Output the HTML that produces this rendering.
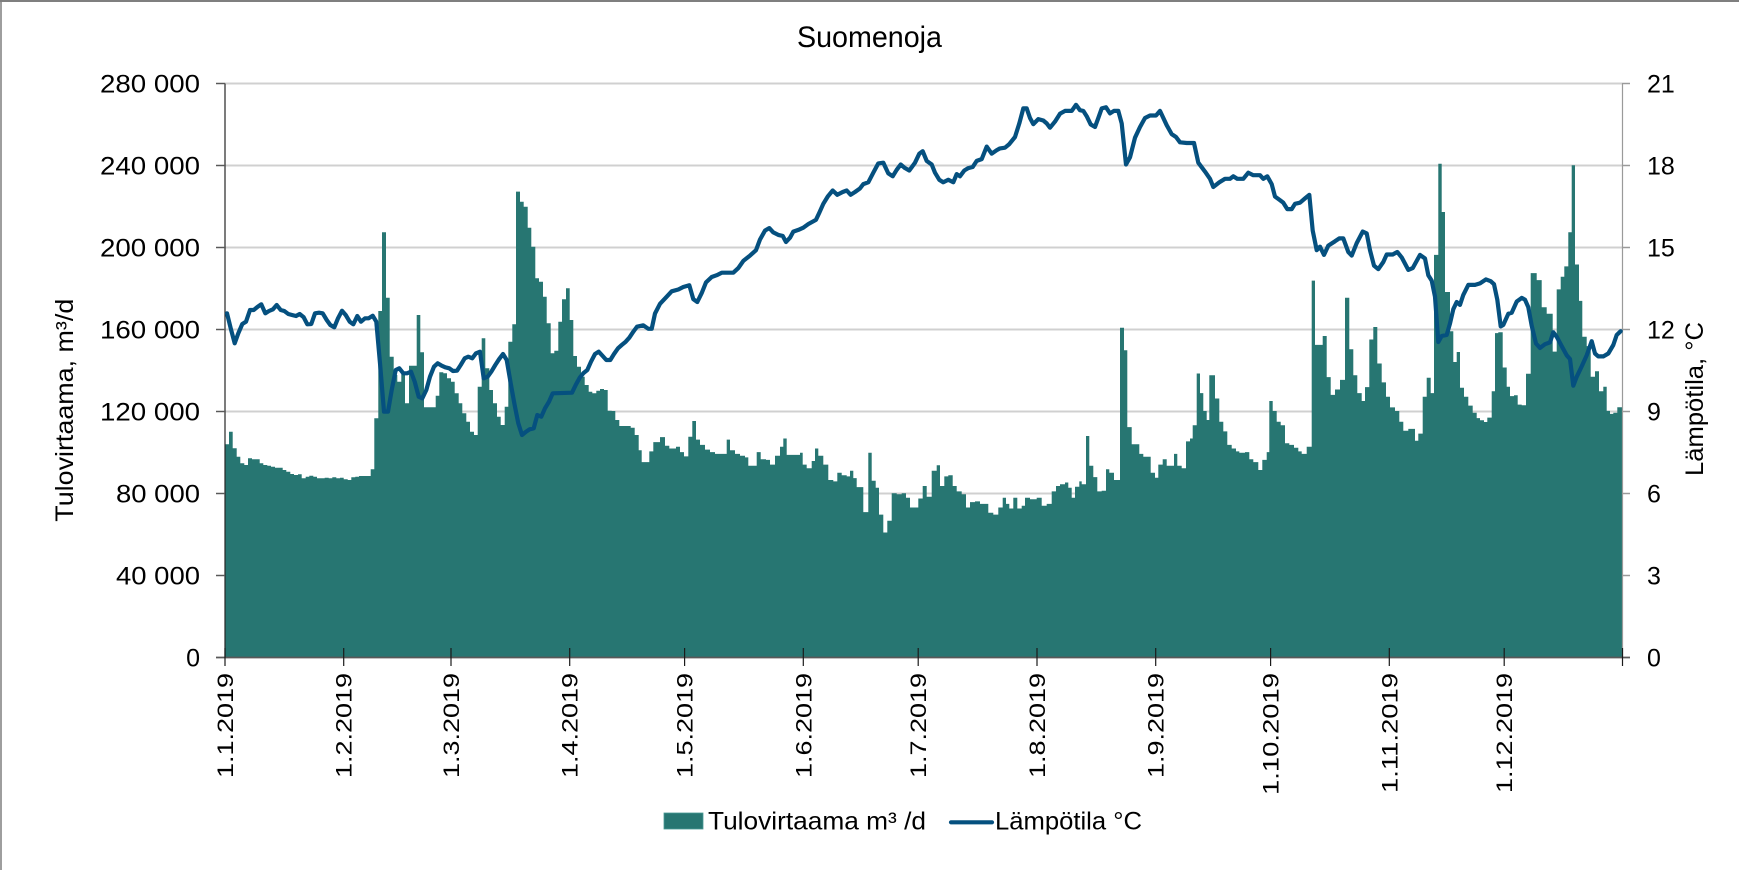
<!DOCTYPE html>
<html>
<head>
<meta charset="utf-8">
<style>
  html, body { margin: 0; padding: 0; background: #ffffff; }
  svg { display: block; }
  text { font-family: "Liberation Sans", "DejaVu Sans", sans-serif; fill: #000; }
</style>
</head>
<body>
<svg width="1739" height="870" viewBox="0 0 1739 870" xmlns="http://www.w3.org/2000/svg">
  <rect x="0" y="0" width="1739" height="870" fill="#ffffff"/>
  <!-- frame (top and left visible) -->
  <line x1="0" y1="1" x2="1739" y2="1" stroke="#7f7f7f" stroke-width="2"/>
  <line x1="1" y1="0" x2="1" y2="870" stroke="#7f7f7f" stroke-width="1.5"/>

  <!-- title -->
  <text x="797" y="47" font-size="30" textLength="145" lengthAdjust="spacingAndGlyphs">Suomenoja</text>

  <!-- gridlines -->
  <g stroke="#d0d0d0" stroke-width="2">
    <line x1="225" y1="83.5" x2="1622" y2="83.5"/>
    <line x1="225" y1="165.5" x2="1622" y2="165.5"/>
    <line x1="225" y1="247.5" x2="1622" y2="247.5"/>
    <line x1="225" y1="329.5" x2="1622" y2="329.5"/>
    <line x1="225" y1="411.5" x2="1622" y2="411.5"/>
    <line x1="225" y1="493.5" x2="1622" y2="493.5"/>
    <line x1="225" y1="575.5" x2="1622" y2="575.5"/>
  </g>

  <!-- bars (flow) -->
  <path fill="#277672" d="M225,657.5 V444.3 H229 V431.7 H232.7 V448.3 H236.7 V456.7 H240.3 V463.3 H244.3 V465 H248 V458.3 H252 V459.3 H259.7 V463.3 H263.3 V465 H267.3 V465.7 H271 V466.7 H275 V467.7 H282.7 V470 H286.3 V471.7 H290.3 V474 H294 V475 H298 V474.3 H301.7 V478.3 H305.7 V476.7 H309.3 V475.7 H313.3 V476.7 H317 V478.3 H324.7 V477.7 H328.7 V478.3 H332.3 V477.3 H336.3 V478.3 H340 V477.7 H343.7 V479.3 H347.7 V480 H351.3 V477.3 H355.3 V476.7 H359 V476 H370.7 V469.3 H374.3 V418.3 H378.3 V311 H382 V232.3 H386 V297.7 H389.7 V356.7 H393.7 V375 H397.3 V381.7 H401.3 V373.3 H405 V403.3 H409 V365.7 H416.7 V315 H420.3 V352.3 H424 V407.3 H435.7 V395.7 H439.3 V372.3 H443.3 V373.3 H447 V378.3 H451 V381.7 H454.7 V393.3 H458.7 V403.3 H462.3 V413.3 H466.3 V421.7 H470 V431.7 H474 V435 H477.7 V386.7 H481.7 V338.3 H485.3 V368.3 H489.3 V390 H493 V403.3 H497 V416.7 H500.7 V425 H504.7 V406.7 H508.3 V341.7 H512.3 V324.3 H516 V191.6 H520 V201.7 H523.7 V206.7 H527.7 V227.7 H531.3 V246.7 H535.3 V278.3 H539 V281.7 H543 V296.7 H546.7 V323.3 H550.7 V353.3 H554.3 V350.7 H558.3 V321.7 H562 V299.3 H566 V288.3 H569.7 V320 H573.3 V356 H577 V366.7 H581 V376.7 H584.7 V385 H588.7 V391.7 H592.3 V393.3 H596.3 V390.7 H600 V389 H604 V390 H607.7 V410.7 H611.7 V411 H615.3 V420 H619.3 V426 H630.7 V427.7 H634.7 V435 H638.7
  V450.3 H641.7 V462.1 H649.3 V451.4 H653.3 V442.1 H660 V437.1 H665 V445.7 H669.3 V448.5 H676 V446.7 H680 V452.1 H684 V456.4 H688.3 V436.7 H692.3 V421 H696 V439.6 H700 V444.9 H705 V449.6 H710 V452.1 H715 V453.9 H726.7 V439.6 H730 V450.3 H735 V453.9 H740 V455.7 H745 V457.4 H748.3 V465.7 H756.7 V452.1 H760.7 V459.2 H766 V459.9 H770 V464.6 H775 V455.7 H780 V446.7 H783.3 V438.5 H786.7 V454.9 H800 V452.8 H802.7 V464.6 H806.7 V468.2 H811.7 V461 H815 V448.5 H818.3 V455.7 H823.3 V464.6 H828.3 V480 H833.3 V481.4 H837.3 V472.8 H841.7 V475.3 H846.7 V476.4 H850 V470.7 H853.3 V478.1 H856.7 V487.1 H863.3 V512.1 H868.3 V452.8 H871.7 V480.7 H875.7 V487.8 H879 V514.6 H883.3 V532.5 H887.3 V520.7 H891.7 V493.2 H896.7 V494.3 H901.7 V493.2 H906 V497.8 H910 V507.5 H918.3 V498.5 H922.7 V486 H926.7 V496.8 H931.7 V470.7 H936.7 V465.3 H940 V486 H944.3 V476.4 H948.3 V475.3 H952.7 V486 H956.7 V491.4 H961.7 V494.3 H966 V507.5 H970 V502.1 H975 V501.4 H980 V503.9 H988.3 V512.8 H993.3 V514.6 H998.3 V507.5 H1002.7 V497.8 H1006 V503.9 H1009.3 V508.5 H1013.3 V497.8 H1017.3 V508.5 H1021.7 V505.7 H1025 V497.8 H1030 V499.3 H1036.7 V497.8 H1041.7 V505.7 H1046.7 V503.9 H1050
  V503.9 H1051.7 V491.4 H1056 V486 H1060 V484.3 H1065 V482.5 H1068.3 V487.8 H1071.7 V497.8 H1075 V486.7 H1079.3 V481.4 H1081.7 V484.3 H1086 V436 H1089.3 V465.7 H1093.3 V477.1 H1097.3 V491.4 H1101.7 V490.7 H1106 V469.2 H1109.3 V472.8 H1114 V480 H1120 V327.8 H1124 V350.3 H1127.3 V427.1 H1131.7 V444.2 H1139.3 V453.9 H1143.3 V456.7 H1150.7 V472.8 H1155 V477.8 H1158.3 V464.6 H1162.7 V459.2 H1166.7 V465.7 H1174 V453.9 H1177.3 V465.7 H1181.7 V468.2 H1186 V441.4 H1190 V438.5 H1192.7 V425.3 H1196.7 V373.5 H1200 V393.1 H1203.3 V411 H1206.7 V420 H1209.3 V375.3 H1215 V398.5 H1219.3 V421.7 H1223.3 V431.4 H1227.3 V444.9 H1231.7 V448.5 H1236 V451.4 H1239.3 V452.8 H1245 V452.1 H1249.3 V459.2 H1253.3 V462.1 H1258.3 V470 H1262.3 V459.9 H1266.7 V452.1 H1269.3 V401 H1272.7 V411 H1276.7 V421.7 H1280.7 V425.3 H1285 V443.2 H1289.3 V444.9 H1294 V447.8 H1298.3 V451.4 H1301.7 V453.9 H1306.7 V446.7 H1311.7 V280.6 H1315 V344.9 H1322.7 V336 H1326.7 V377.1 H1330.7 V394.9 H1335 V389.5 H1340 V379.9 H1345 V297.7 H1349.3 V349.2 H1353.3 V375.3 H1357.3 V393.1 H1361.7 V401 H1365 V387.1 H1369.3 V339.5 H1373.3 V327 H1377.3 V363.5 H1381.7 V382.4 H1386 V396.7 H1390 V407.4 H1395 V411 H1399.3 V421.7 H1403.3 V430.7 H1408.3 V428.9 H1415 V440.7 H1418.3 V433.6 H1422.7 V396.7 H1426.7 V377.8 H1430.7 V393.1 H1434 V254.9 H1438.3 V163.8 H1441.7 V212 H1445 V292 H1450 V331.3 H1453.3 V362 H1456.7 V352 H1460 V387.8 H1464 V396.7 H1468.3 V405.6 H1472.7 V412.8 H1476.7 V418.1 H1480
  V420.2 H1484 V422 H1487.3 V417.6 H1491.7 V391.3 H1495 V333.1 H1498.3 V332.3 H1502.7 V367.5 H1506.7 V386.8 H1510 V396.1 H1514 V395.3 H1517.7 V404.6 H1521.7 V405.3 H1526 V373.8 H1530.7 V273.1 H1536.7 V280.1 H1541.7 V307.2 H1546.7 V313.8 H1552.7 V351.6 H1556.7 V289.4 H1560.7 V276.8 H1564.3 V266.4 H1568.3 V232.3 H1571.7 V165.3 H1575 V264.5 H1579 V300.9 H1582.3 V336.8 H1586.7 V346.1 H1590.7 V376.8 H1595 V371.2 H1599 V391.3 H1603.3 V386.8 H1606.7 V410.9 H1610 V413.9 H1613.3 V412.8 H1617.3 V407.2 H1622 V657.5 Z"/>

  <!-- axes -->
  <line x1="225" y1="83.5" x2="225" y2="657.5" stroke="#262626" stroke-width="1.2"/>
  <line x1="1622.5" y1="83.5" x2="1622.5" y2="657.5" stroke="#9a9a9a" stroke-width="1.2"/>
  <line x1="216" y1="657.5" x2="1630" y2="657.5" stroke="#595959" stroke-width="1.8"/>

  <!-- left ticks -->
  <g stroke="#595959" stroke-width="1.5">
    <line x1="216" y1="83.5" x2="225" y2="83.5"/>
    <line x1="216" y1="165.5" x2="225" y2="165.5"/>
    <line x1="216" y1="247.5" x2="225" y2="247.5"/>
    <line x1="216" y1="329.5" x2="225" y2="329.5"/>
    <line x1="216" y1="411.5" x2="225" y2="411.5"/>
    <line x1="216" y1="493.5" x2="225" y2="493.5"/>
    <line x1="216" y1="575.5" x2="225" y2="575.5"/>
  </g>
  <!-- right ticks -->
  <g stroke="#9a9a9a" stroke-width="1.5">
    <line x1="1622" y1="83.5" x2="1630" y2="83.5"/>
    <line x1="1622" y1="165.5" x2="1630" y2="165.5"/>
    <line x1="1622" y1="247.5" x2="1630" y2="247.5"/>
    <line x1="1622" y1="329.5" x2="1630" y2="329.5"/>
    <line x1="1622" y1="411.5" x2="1630" y2="411.5"/>
    <line x1="1622" y1="493.5" x2="1630" y2="493.5"/>
    <line x1="1622" y1="575.5" x2="1630" y2="575.5"/>
  </g>
  <!-- x ticks -->
  <g stroke="#1a1a1a" stroke-width="1.2">
    <line x1="225" y1="648" x2="225" y2="666"/>
    <line x1="343.7" y1="648" x2="343.7" y2="666"/>
    <line x1="451" y1="648" x2="451" y2="666"/>
    <line x1="569.7" y1="648" x2="569.7" y2="666"/>
    <line x1="684.6" y1="648" x2="684.6" y2="666"/>
    <line x1="803.3" y1="648" x2="803.3" y2="666"/>
    <line x1="918.2" y1="648" x2="918.2" y2="666"/>
    <line x1="1037" y1="648" x2="1037" y2="666"/>
    <line x1="1155.7" y1="648" x2="1155.7" y2="666"/>
    <line x1="1270.6" y1="648" x2="1270.6" y2="666"/>
    <line x1="1389.3" y1="648" x2="1389.3" y2="666"/>
    <line x1="1504.2" y1="648" x2="1504.2" y2="666"/>
    <line x1="1622.5" y1="648" x2="1622.5" y2="666"/>
  </g>

  <!-- temperature line -->
  <polyline fill="none" stroke="#05507f" stroke-width="4.2" stroke-linejoin="round" stroke-linecap="round" points="227,313.3 230.7,328.3 234.7,343.3 238.3,333.3 242.3,324 246,321.7 250,310 253.7,310 257.7,306.7 261.3,304.3 265.3,313.3 269,311 273,309.3 276.7,305 280.7,310 284.3,311 288.3,314 292,315 296,316 299.7,314 303.7,317.3 307.3,324.3 311.3,324 315,313.3 319,312.7 322.7,313.3 326.7,320 330.3,325 334.3,327.3 338,318.3 342,310.7 345.7,315 349.7,321.7 353.3,324.3 357.3,316 361,321.7 365,318.3 368.7,318.3 372.7,315.7 376.3,321.7 380.3,366.7 384,411.7 388,411.7 391.7,390 395.7,370 399.3,368.3 403.3,373.3 407,373.3 411,371.7 414.7,381.7 418.7,396.7 422.3,398.3 426.3,390 430,376.7 434,366.7 437.7,363.3 441.7,365.7 445.3,367.3 449.3,368.3 453,371 457,370.7 460.7,365 464.7,358.3 468.3,356.7 472.3,358.3 476,353.3 480,351.7 483.7,378.3 487.7,376.7 491.3,371.7 495.3,365 499,359.3 503,354 506.7,360 510.7,383.3 514.3,403.3 518.3,423.3 522,435 526,431.7 529.7,429.3 533.7,428.3 537.3,415 541.3,416.7 545,408.3 549,401.7 552.7,393.3 572,392.7 575.7,385 579.7,377.7 583.3,373.3 587.3,370 591,361.7 595,354 598.7,351.7 602.7,356 606.3,360 610.3,360 614,354 618,348.3 621.7,345 625.7,341.7 629.3,337.7 633.3,331.7 637,326.7 643.3,325.3 648.3,328.8 651.7,328.8 655,313.5 660,303.8 666.7,296.7 671.7,291.3 678.3,289.5 683.3,287 689.3,285.2 693.3,299.2 697.3,302 701.7,293.1 706,282.4 711.7,277 716.7,275.2 721.7,272.7 733.3,272.7 738.3,268.1 743.3,260.9 750,255.6 756,250.2 760,239.5 765,230.6 769.3,228.1 773.3,232.4 778.3,234.9 782.7,235.9 786,242 790,237.7 793.3,231.6 798.3,229.9 803.3,227.7 808.3,224.1 816,219.8 819.3,212.7 823.3,203.8 827.7,196.6 832.7,190.5 837.3,194.8 842.7,192 846.7,190.5 850.7,194.8 855,192 860,188.4 863.3,184.1 868.3,182.3 873.3,172.7 878.3,163.4 883.3,162.7 888.3,173.4 892.7,176.3 896.7,169.8 900.7,164.5 905,168.1 909.3,170.5 915,162.7 919.3,153.7 922.7,151.2 926.7,160.9 931.7,164.5 935,172.7 939.3,179.8 943.3,182.3 948.3,179.8 953.3,182.3 956.7,174.1 960,176.3 964.3,170.5 968.3,168.1 972.7,167 976.7,160.9 981.7,159.1 986.7,146.6 991.7,153.7 996.7,150.2 1000,148.4 1005,147.7 1009.3,144.1 1015,137 1019.3,123.4 1023.3,108.4 1026.7,108.4 1030,118 1033.3,124.1 1038.3,119.1 1043.3,120.5 1046.7,123.4 1050,127.7 1055,121.6 1060,113.7 1065,110.9 1071.7,110.9 1076,104.8 1080,110.2 1083.3,110.9 1086.7,116.2 1090.7,124.4 1095,127 1098.3,118 1101.7,108.4 1106,107.3 1110,113.4 1114,110.9 1118.3,110.9 1121.7,123.4 1126,164.5 1130,157.3 1135,137.7 1140,127 1145,118 1150,115.5 1156,115.5 1160,110.9 1166.7,125.2 1171.7,134.1 1176,137 1180,142.3 1186.7,143 1194,143 1198.3,162.7 1205,171.6 1210,178.8 1213.3,187 1219.3,182.3 1225,178.8 1230,178.8 1233.3,176.3 1237.3,178.8 1243.3,178.8 1248.3,172.7 1253.3,175.2 1260,175.2 1263.3,178.8 1267.3,176.3 1271.7,184.1 1275,196.6 1280,200.2 1283.3,202.7 1287.3,209.1 1291.7,209.1 1295,203.8 1300,202.7 1305,198.4 1309.3,194.8 1312.7,230.6 1316.7,250.2 1320,246.7 1324,254.9 1328.3,245.6 1335,241.3 1339.3,238.4 1343.3,238.4 1348.3,252 1351.7,255.6 1356.7,243.1 1362.7,231.6 1366.7,233.4 1370,250.2 1374,265.6 1378.3,269.2 1383.3,262 1386.7,254.5 1392.7,254.5 1397.3,252 1401.7,257.4 1408.3,269.9 1412.7,268.1 1420,254.9 1425,258.5 1428.3,275.2 1431.7,280.6 1435,296.7 1438.3,342 1441.7,336 1446.7,334.9 1450,323.5 1453.3,309.2 1456.7,302 1460,304.9 1463.3,294.9 1468.3,284.9 1475,284.9 1480,283.4 1486,279.4 1490.7,281.2 1494,284.2 1497.3,299.7 1500.7,326.4 1503.3,324.9 1508.3,313.8 1511.7,312.7 1516.7,301.6 1521.7,297.9 1525,299.7 1528.3,307.2 1531.7,325.7 1536,343.5 1540,347.9 1545,344.2 1550,342.4 1553.3,332.3 1556.7,336.8 1561.7,346.1 1566.7,355.3 1570,359 1573.3,385.7 1576.7,376.8 1581.7,366.4 1586.7,355.3 1591.7,341.2 1595,353.5 1598.3,356.4 1603.3,356.4 1608.3,353.5 1613.3,345 1616.7,335 1620.7,331.2"/>

  <!-- left axis labels -->
  <g font-size="25" text-anchor="end">
    <text x="200" y="92.5" textLength="100" lengthAdjust="spacingAndGlyphs">280 000</text>
    <text x="200" y="174.5" textLength="100" lengthAdjust="spacingAndGlyphs">240 000</text>
    <text x="200" y="256.5" textLength="100" lengthAdjust="spacingAndGlyphs">200 000</text>
    <text x="200" y="338.5" textLength="100" lengthAdjust="spacingAndGlyphs">160 000</text>
    <text x="200" y="420.5" textLength="100" lengthAdjust="spacingAndGlyphs">120 000</text>
    <text x="200" y="502.5" textLength="84" lengthAdjust="spacingAndGlyphs">80 000</text>
    <text x="200" y="584.5" textLength="84" lengthAdjust="spacingAndGlyphs">40 000</text>
    <text x="200" y="666.5">0</text>
  </g>

  <!-- right axis labels -->
  <g font-size="25" text-anchor="start">
    <text x="1647" y="92.5">21</text>
    <text x="1647" y="174.5">18</text>
    <text x="1647" y="256.5">15</text>
    <text x="1647" y="338.5">12</text>
    <text x="1647" y="420.5">9</text>
    <text x="1647" y="502.5">6</text>
    <text x="1647" y="584.5">3</text>
    <text x="1647" y="666.5">0</text>
  </g>

  <!-- axis titles -->
  <g transform="translate(73,521.7) rotate(-90)">
    <text x="0" y="0" font-size="25" textLength="223" lengthAdjust="spacingAndGlyphs">Tulovirtaama, m³/d</text>
  </g>
  <g transform="translate(1703,476) rotate(-90)">
    <text x="0" y="0" font-size="25" textLength="154" lengthAdjust="spacingAndGlyphs">Lämpötila, °C</text>
  </g>

  <!-- x labels -->
  <g font-size="22" text-anchor="end">
    <g transform="translate(233,673) rotate(-90)"><text x="0" y="0" textLength="105" lengthAdjust="spacingAndGlyphs">1.1.2019</text></g>
    <g transform="translate(351.7,673) rotate(-90)"><text x="0" y="0" textLength="105" lengthAdjust="spacingAndGlyphs">1.2.2019</text></g>
    <g transform="translate(459,673) rotate(-90)"><text x="0" y="0" textLength="105" lengthAdjust="spacingAndGlyphs">1.3.2019</text></g>
    <g transform="translate(577.7,673) rotate(-90)"><text x="0" y="0" textLength="105" lengthAdjust="spacingAndGlyphs">1.4.2019</text></g>
    <g transform="translate(692.6,673) rotate(-90)"><text x="0" y="0" textLength="105" lengthAdjust="spacingAndGlyphs">1.5.2019</text></g>
    <g transform="translate(811.3,673) rotate(-90)"><text x="0" y="0" textLength="105" lengthAdjust="spacingAndGlyphs">1.6.2019</text></g>
    <g transform="translate(926.2,673) rotate(-90)"><text x="0" y="0" textLength="105" lengthAdjust="spacingAndGlyphs">1.7.2019</text></g>
    <g transform="translate(1045,673) rotate(-90)"><text x="0" y="0" textLength="105" lengthAdjust="spacingAndGlyphs">1.8.2019</text></g>
    <g transform="translate(1163.7,673) rotate(-90)"><text x="0" y="0" textLength="105" lengthAdjust="spacingAndGlyphs">1.9.2019</text></g>
    <g transform="translate(1278.6,673) rotate(-90)"><text x="0" y="0" textLength="122" lengthAdjust="spacingAndGlyphs">1.10.2019</text></g>
    <g transform="translate(1397.3,673) rotate(-90)"><text x="0" y="0" textLength="120" lengthAdjust="spacingAndGlyphs">1.11.2019</text></g>
    <g transform="translate(1512.2,673) rotate(-90)"><text x="0" y="0" textLength="120" lengthAdjust="spacingAndGlyphs">1.12.2019</text></g>
  </g>

  <!-- legend -->
  <rect x="664" y="813" width="39" height="16" fill="#277672" stroke="#4a9a95" stroke-width="0.8"/>
  <text x="708" y="829.3" font-size="25" textLength="218" lengthAdjust="spacingAndGlyphs">Tulovirtaama m³ /d</text>
  <line x1="951" y1="822.3" x2="992" y2="822.3" stroke="#05507f" stroke-width="4.2" stroke-linecap="round"/>
  <text x="995" y="829.3" font-size="25" textLength="147" lengthAdjust="spacingAndGlyphs">Lämpötila °C</text>
</svg>
</body>
</html>
